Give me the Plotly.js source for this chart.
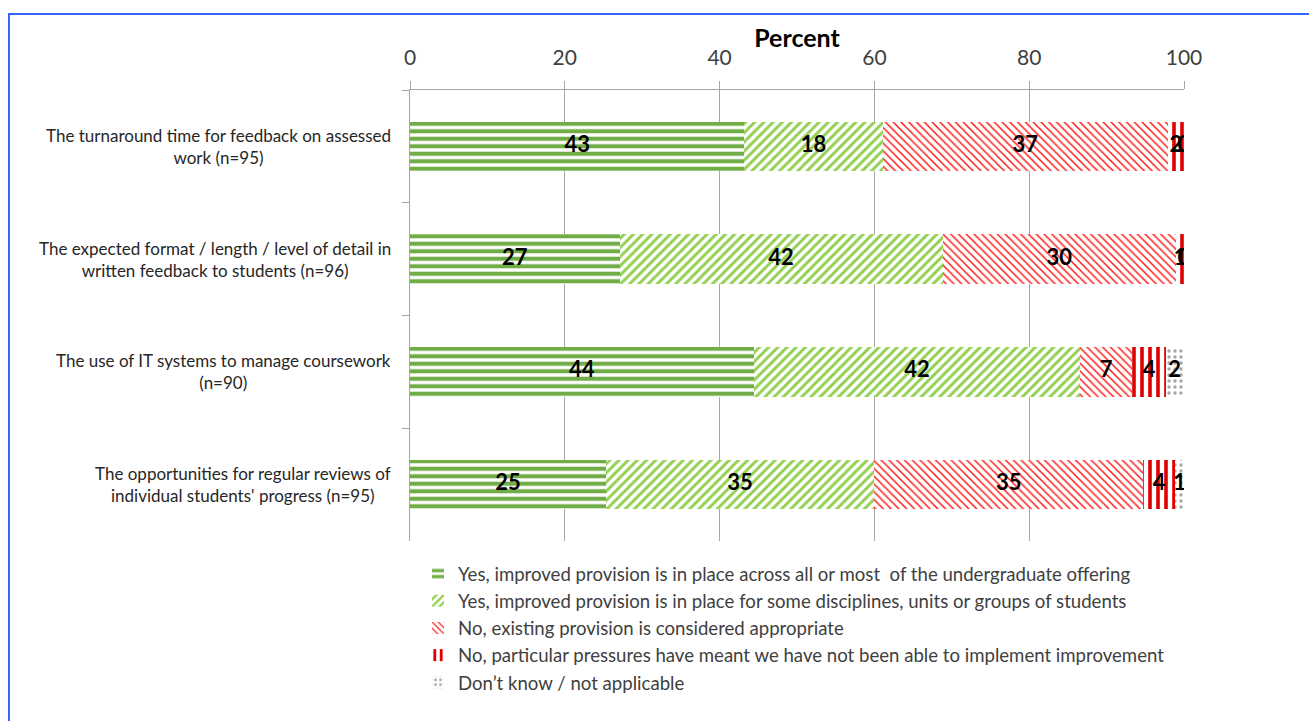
<!DOCTYPE html>
<html>
<head>
<meta charset="utf-8">
<script src="https://cdn.plot.ly/plotly-3.0.1.min.js"></script>
<style>
  html, body { margin: 0; padding: 0; background: #fff; overflow: hidden; }
  #chart { position: absolute; left: 0; top: 0; width: 1309px; height: 721px; }
  #frame { position: absolute; left: 8px; top: 13px; width: 1400px; height: 800px;
           border-left: 2px solid #3366FF; border-top: 2px solid #3366FF; pointer-events: none; }
</style>
</head>
<body>
<div id="chart"></div>
<div id="frame"></div>
<script>
const categories = [
  "The turnaround time for feedback on assessed<br>work (n=95)",
  "The expected format / length / level of detail in<br>written feedback to students (n=96)",
  "The use of IT systems to manage coursework<br>(n=90)",
  "The opportunities for regular reviews of<br>individual students' progress (n=95)"
];
const seriesNames = [
  "Yes, improved provision is in place across all or most  of the undergraduate offering",
  "Yes, improved provision is in place for some disciplines, units or groups of students",
  "No, existing provision is considered appropriate",
  "No, particular pressures have meant we have not been able to implement improvement",
  "Don\u2019t know / not applicable"
];
const yesAll        = [43.2, 27.1, 44.4, 25.3];
const yesSome       = [17.9, 41.7, 42.2, 34.7];
const noAppropriate = [36.8, 30.2, 6.7, 34.7];
const noPressures   = [2.1, 1.0, 4.4, 4.2];
const dontKnow      = [0.0, 0.0, 2.2, 1.1];
const xTicks = [0, 20, 40, 60, 80, 100];

const allSeries = [yesAll, yesSome, noAppropriate, noPressures, dontKnow];
const styles = [
  {color: "#70AD47", shape: "-",  size: 7.5, solidity: 0.55},
  {color: "#92D050", shape: "/",  size: 6.5, solidity: 0.45},
  {color: "#FF1A1A", shape: "\\", size: 5.5, solidity: 0.28},
  {color: "#E00000", shape: "|",  size: 8,   solidity: 0.45},
  {color: "#A6A6A6", shape: ".",  size: 6,   solidity: 0.25}
];
const FONT = "Lato, 'Liberation Sans', sans-serif";

const traces = [];
allSeries.forEach((vals, i) => {
  traces.push({
    type: "bar", orientation: "h", name: seriesNames[i],
    y: categories, x: vals, width: 0.44,
    marker: {
      color: styles[i].color,
      line: {width: 0},
      pattern: {shape: styles[i].shape, fgcolor: styles[i].color, bgcolor: "#ffffff",
                size: styles[i].size, solidity: styles[i].solidity, fillmode: "replace"}
    },
    hoverinfo: "x+name"
  });
});

// data labels at the middle of each stacked segment
const cum = categories.map(() => 0);
allSeries.forEach((vals) => {
  const xs = [], txt = [];
  vals.forEach((v, j) => { xs.push(cum[j] + v / 2); txt.push(String(Math.round(v))); cum[j] += v; });
  traces.push({
    type: "scatter", mode: "text", x: xs, y: categories, text: txt,
    textposition: "middle center", showlegend: false, hoverinfo: "skip",
    textfont: {family: FONT, size: 22, color: "#000000", weight: "bold"}
  });
});

const annotations = categories.map(c => ({
  xref: "paper", yref: "y", x: -0.022, y: c, text: c,
  xanchor: "right", yanchor: "middle", align: "center", showarrow: false,
  font: {family: FONT, size: 17, color: "#262626"}
}));

const layout = {
  width: 1309, height: 721,
  margin: {l: 410, r: 125, t: 90, b: 180},
  paper_bgcolor: "#ffffff", plot_bgcolor: "#ffffff",
  barmode: "stack", bargap: 0.56,
  font: {family: FONT, color: "#404040"},
  title: {text: "<b>Percent</b>", x: 0.5, xref: "paper", xanchor: "center",
          y: 1 - 38 / 721, yanchor: "middle",
          font: {family: FONT, size: 25, color: "#000000"}},
  xaxis: {
    side: "top", range: [0, 100], tickvals: xTicks, ticktext: xTicks.map(String),
    showgrid: true, gridcolor: "#A6A6A6", gridwidth: 1, zeroline: false,
    showline: true, linecolor: "#A6A6A6", linewidth: 1,
    ticks: "outside", ticklen: 8, tickcolor: "#A6A6A6", ticklabelstandoff: 8,
    tickfont: {family: FONT, size: 21, color: "#404040"}, fixedrange: true
  },
  yaxis: {
    type: "category", autorange: "reversed", showticklabels: false,
    tickson: "boundaries", ticks: "outside", ticklen: 7, tickcolor: "#A6A6A6",
    showline: true, linecolor: "#A6A6A6", linewidth: 1, showgrid: false, zeroline: false,
    fixedrange: true
  },
  legend: {
    orientation: "v", x: (418 - 410) / 774, xanchor: "left",
    y: -(555 - 541) / 451, yanchor: "top",
    font: {family: FONT, size: 18.6, color: "#404040"},
    itemwidth: 30, tracegroupgap: 0, traceorder: "normal", bgcolor: "rgba(0,0,0,0)"
  },
  annotations: annotations,
  showlegend: true
};

Plotly.newPlot("chart", traces, layout, {displayModeBar: false, staticPlot: true});
</script>
</body>
</html>
